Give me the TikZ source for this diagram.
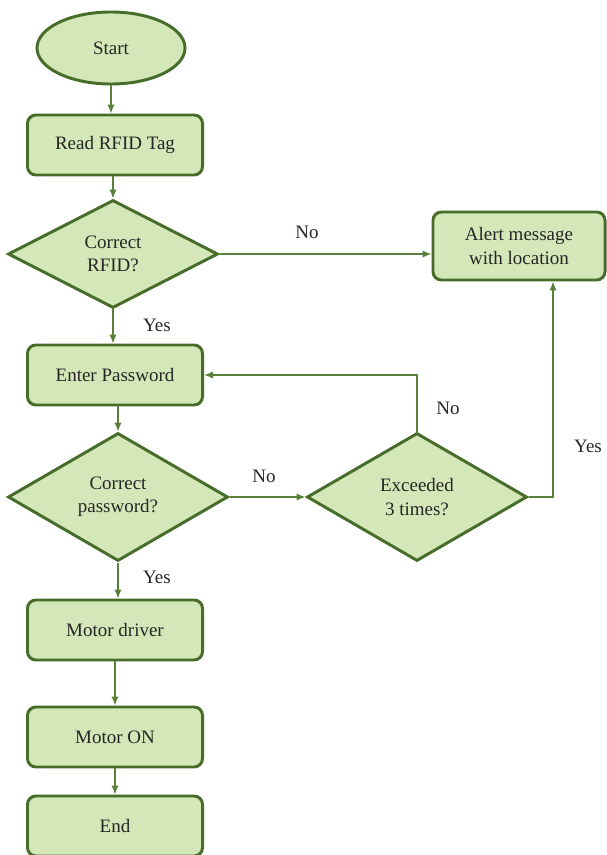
\documentclass[tikz,border=0pt]{standalone}
\usepackage{fontspec}
\setmainfont{Liberation Serif}
\usetikzlibrary{shapes.geometric,arrows.meta}

\definecolor{leaf}{RGB}{212,231,184}
\definecolor{stem}{RGB}{72,108,42}
\definecolor{twig}{RGB}{88,128,58}

\tikzset{
	blockbox/.style={draw=stem, fill=leaf, line width=2.1pt, rounded corners=6pt,
		minimum width=4.375cm, minimum height=1.5cm, align=center, inner sep=2pt},
	decide/.style={draw=stem, fill=leaf, line width=2.1pt, diamond, aspect=1.7,
		minimum width=5.5cm, minimum height=3.2cm, align=center, inner sep=0pt},
	flow/.style={->, draw=twig, line width=1pt}
}

\begin{document}
\begin{tikzpicture}[x=0.025cm,y=-0.025cm,>={Latex[length=2.2mm,width=1.8mm]},
	font=\fontsize{13.5}{16.5}\selectfont, text=black!85]

\useasboundingbox (0,0) rectangle (606,855);

% Start
\node[ellipse, draw=stem, fill=leaf, line width=2.1pt,
	minimum width=3.7cm, minimum height=1.8cm] (start) at (111,48) {Start};

% Main column
\foreach \name/\y/\txt in {read/145/Read RFID Tag, pass/375/Enter Password,
	driver/630/Motor driver, motor/737/Motor ON, stop/826/End}{
	\node[blockbox] (\name) at (115,\y) {\txt};
}

% Alert box on the right
\node[blockbox, minimum width=4.3cm, minimum height=1.7cm] (alert) at (519,246)
	{Alert message\\with location};

% Decisions
\node[decide, minimum width=5.25cm, minimum height=2.7cm] (rfid) at (113,254) {Correct\\RFID?};
\node[decide] (cpass) at (118,497) {Correct\\password?};
\node[decide] (exceed) at (417,497) {Exceeded\\3 times?};

% Connectors
\draw[flow] (start) -- (start |- read.north);
\draw[flow] (rfid.north |- read.south) -- (rfid.north);
\draw[flow] (rfid) -- (rfid |- pass.north);
\draw[flow] (cpass.north |- pass.south) -- (cpass.north);
\draw[flow] (cpass) -- (cpass |- driver.north);
\draw[flow] (driver) -- (motor);
\draw[flow] (motor) -- (stop);
\draw[flow] (rfid) -- (rfid -| alert.west);
\draw[flow] (cpass) -- (exceed);
\draw[flow] (exceed.north) |- (pass.east);
\draw[flow] (exceed.east) -| ([xshift=0.85cm]alert.south);

% Labels
\node (norfid) at (307,232) {No};
\node (yesrfid) at (157,325) {Yes};
\node (noloop) at (448,408) {No};
\node (nopass) at (264,476) {No};
\node (yespass) at (157,577) {Yes};
\node (yesalert) at (588,446) {Yes};
\end{tikzpicture}
\end{document}
